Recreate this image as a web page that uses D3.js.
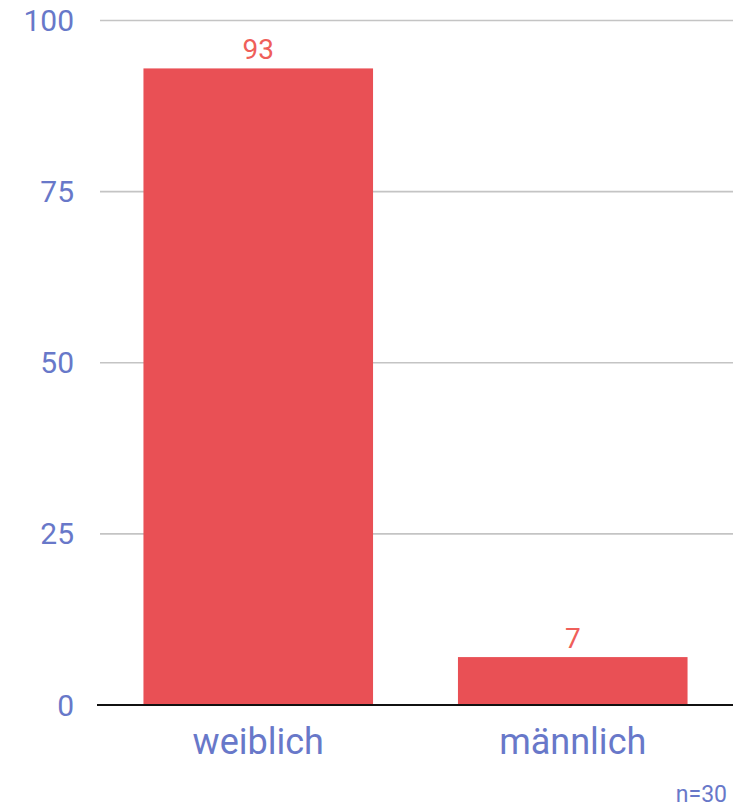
<!DOCTYPE html>
<html><head><meta charset="utf-8">
<script src="https://cdn.jsdelivr.net/npm/d3@7"></script>
<style>
html,body{margin:0;padding:0;background:#fff;}
svg{display:block;font-family:Roboto, "Liberation Sans", Arial, sans-serif;}
</style></head>
<body>
<svg id="chart" width="734" height="809"></svg>
<script>
const categories = ["weiblich", "männlich"];
const values = [93, 7];
const yTicks = [0, 25, 50, 75, 100];
const note = "n=30";

const svg = d3.select("#chart");
const x = d3.scaleBand().domain(categories).range([101, 730]).paddingInner(0.27).paddingOuter(0.135);
const y = d3.scaleLinear().domain([0, 100]).range([705, 20.5]);

const labelColor = "#6878c9";
const barColor = "#e95055";
const valueColor = "#ef5f5a";

// gridlines
svg.append("g").selectAll("line").data(yTicks.filter(d => d !== 0)).join("line")
  .attr("x1", 100).attr("x2", 733)
  .attr("y1", d => y(d)).attr("y2", d => y(d))
  .attr("stroke", "#c4c4c4").attr("stroke-width", 1.6);

// y labels
svg.append("g").selectAll("text").data(yTicks).join("text")
  .attr("x", 74).attr("y", d => y(d)).attr("dy", "0.35em")
  .attr("text-anchor", "end").attr("fill", labelColor)
  .attr("font-size", 30).text(d => d);

// bars
svg.append("g").selectAll("rect").data(values).join("rect")
  .attr("x", (d, i) => x(categories[i]))
  .attr("width", x.bandwidth())
  .attr("y", d => y(d))
  .attr("height", d => y(0) - y(d))
  .attr("fill", barColor);

// baseline
svg.append("line").attr("x1", 97).attr("x2", 733).attr("y1", y(0)).attr("y2", y(0))
  .attr("stroke", "#111").attr("stroke-width", 1.8);

// value labels
svg.append("g").selectAll("text").data(values).join("text")
  .attr("x", (d, i) => x(categories[i]) + x.bandwidth() / 2)
  .attr("y", d => y(d) - 9.5)
  .attr("text-anchor", "middle").attr("fill", valueColor)
  .attr("font-size", 28).text(d => d);

// category labels
svg.append("g").selectAll("text").data(categories).join("text")
  .attr("x", d => x(d) + x.bandwidth() / 2)
  .attr("y", 754)
  .attr("text-anchor", "middle").attr("fill", labelColor)
  .attr("font-size", 36).text(d => d);

svg.append("text").attr("x", 727).attr("y", 802).attr("text-anchor", "end")
  .attr("fill", labelColor).attr("font-size", 23).text(note);
</script>
</body></html>
